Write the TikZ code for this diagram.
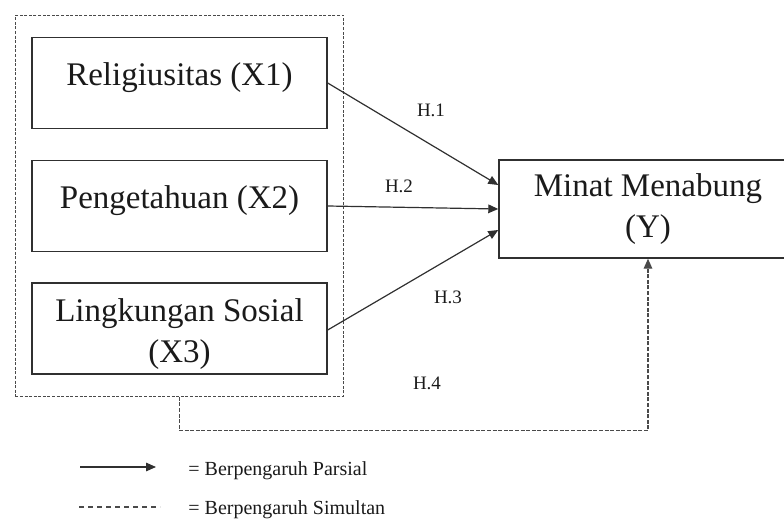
\documentclass[tikz,border=0pt]{standalone}
\usepackage{fontspec}
\setmainfont{Liberation Serif}
\usepackage{xcolor}
\definecolor{varLine}{HTML}{303030}
\definecolor{varText}{HTML}{1A1A1A}
\definecolor{varDash}{HTML}{4A4A4A}
\usepackage{tikz}
\usetikzlibrary{arrows.meta,positioning,fit}
\tikzset{
    varbox/.style={
        draw=varLine,
        rectangle,
        line width=0.7pt,
        align=center,
        minimum height=45.5pt,
        minimum width=147.5pt,
        inner sep=0pt,
        text=varText,
        font=\fontsize{16.5}{20.5}\selectfont
    },
    oneline/.style={
        text depth=8.5pt
    },
    group/.style={
        draw=varDash,
        rectangle,
        line width=0.65pt,
        dash pattern=on 1.5pt off 0.8pt,
        inner xsep=8pt,
        inner ysep=10.75pt
    },
    partial/.style={
        -{Triangle[length=5pt,width=4.3pt]},
        line width=0.6pt,
        color=varLine
    },
    simultan/.style={
        -{Triangle[length=5pt,width=4.3pt]},
        line width=0.65pt,
        color=varDash,
        dash pattern=on 2pt off 0.8pt
    },
    legdash/.style={
        line width=0.6pt,
        color=varDash,
        dash pattern=on 2.5pt off 2pt
    },
    hyp/.style={
        font=\fontsize{9.5}{11}\selectfont,
        text=varText,
        inner sep=0pt
    },
    legtext/.style={
        font=\fontsize{10}{12}\selectfont,
        text=varText,
        anchor=base west,
        inner sep=0pt
    }
}

\begin{document}
\begin{tikzpicture}[x=0.5pt,y=-0.5pt]
    \useasboundingbox (0,0) rectangle (784,519);
    \clip (0,0) rectangle (784,519);

    % variabel
    \node[varbox,oneline] (x1) at (179.5,83) {Religiusitas (X1)};
    \node[varbox,oneline] (x2) at (179.5,206) {Pengetahuan (X2)};
    \node[varbox] (x3) at (179.5,328.5) {\rule{0pt}{17.5pt}Lingkungan Sosial\\(X3)};
    \node[varbox,minimum width=149pt,minimum height=49pt] (y) at (648,209) {Minat Menabung\\(Y)};
    \node[group,fit=(x1)(x2)(x3)] (grp) {};

    % pengaruh parsial
    \draw[partial] (x1.east) -- ([yshift=12pt]y.west);
    \draw[partial] (x2.east) -- (y.west);
    \draw[partial] ([yshift=-0.75pt]x3.east) -- ([yshift=-10.5pt]y.west);
    \node[hyp] (h1) at (431,110) {H.1};
    \node[hyp] (h2) at (399,186) {H.2};
    \node[hyp] (h3) at (448,297) {H.3};

    % pengaruh simultan
    \draw[simultan] (grp.south) -- ++(0,34) -| (y.south);
    \node[hyp] (h4) at (427,383) {H.4};

    % keterangan
    \coordinate (pa) at (80,467);
    \coordinate (pb) at (156,467);
    \coordinate (sa) at (79,507);
    \coordinate (sb) at (160,507);
    \draw[partial] (pa) -- (pb);
    \draw[legdash] (sa) -- (sb);
    \node[legtext] (lp) at (188,476) {= Berpengaruh Parsial};
    \node[legtext] (ls) at (188,515) {= Berpengaruh Simultan};
\end{tikzpicture}
\end{document}
